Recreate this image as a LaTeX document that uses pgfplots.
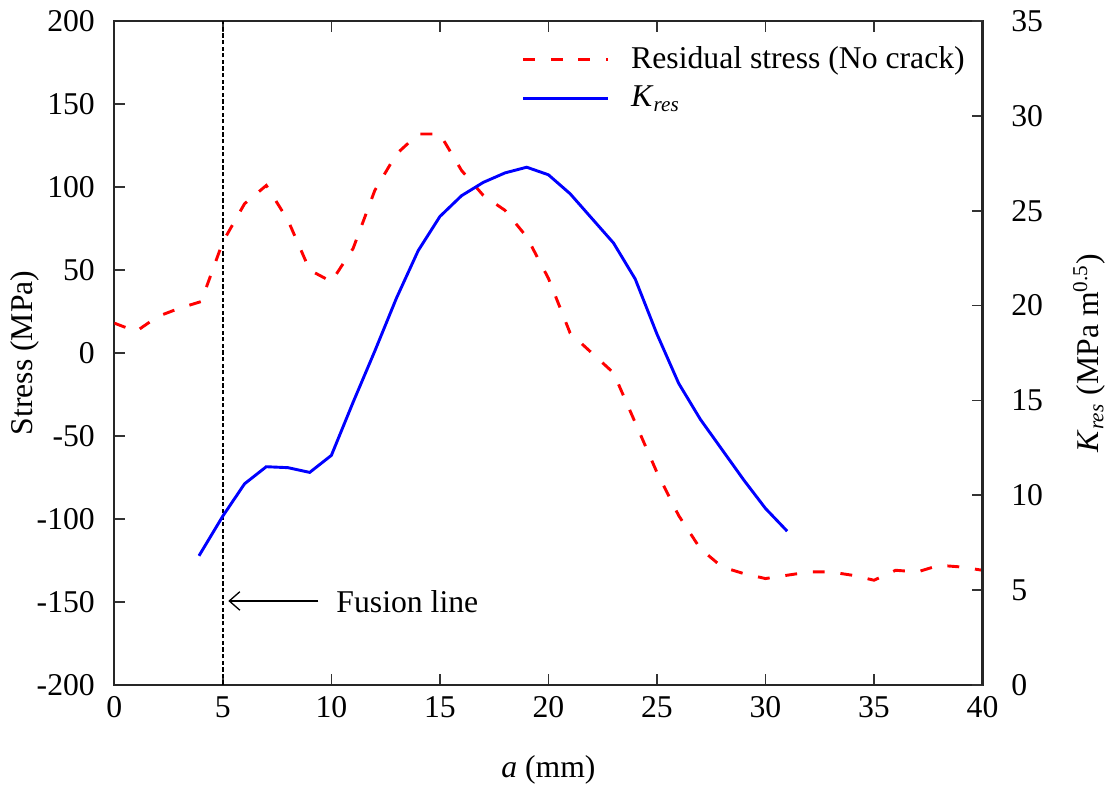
\documentclass[12pt,border=0pt]{standalone}
\usepackage{fontspec}
\setmainfont{Liberation Serif}
\usepackage{pgfplots}
\pgfplotsset{compat=1.18}
\usetikzlibrary{arrows.meta}

\pgfplotstableread{
x y
0 18
1 13
2 22
3 27
4 31
5 67
6 90
7 101
8 80
9 50
10 43
11 63
12 98
13 120
14 132
15 132
16 110
17 95
18 86
19 70
20 45
21 12
22 0
23 -12
24 -42
25 -72
26 -98
27 -118
28 -129
29 -133
30 -136
31 -134
32 -132
33 -132
34 -134
35 -137
36 -131
37 -132
38 -128
39 -129
40 -131
}\stressdata

\pgfplotstableread{
x k
3.9 6.8
5 8.9
6 10.6
7 11.5
8 11.45
9 11.2
10 12.1
11 14.9
12 17.6
13 20.4
14 22.9
15 24.7
16 25.8
17 26.5
18 27.0
19 27.3
20 26.9
21 25.9
22 24.6
23 23.3
24 21.4
25 18.5
26 15.9
27 14.0
28 12.4
29 10.8
30 9.3
31 8.1
}\kdata

\definecolor{kblue}{RGB}{0,0,255}
\definecolor{sred}{RGB}{255,0,0}

\begin{document}
\begin{tikzpicture}
\pgfplotsset{
  every axis/.append style={
    scale only axis,
    width=328.7pt, height=251.2pt,
    xmin=0, xmax=40,
    line width=0.8pt,
    tick style={line width=0.6pt, black!80},
    major tick length=4pt,
    /pgf/number format/assume math mode=true,
    tick label style={font=\fontsize{12}{14}\selectfont},
    label style={font=\fontsize{12}{14}\selectfont},
  },
}
\begin{axis}[
  ymin=-200, ymax=200,
  ytick={-200,-150,...,200},
  xtick={0,5,...,40},
  xtick pos=both,
  ytick pos=left,
  tick align=inside,
  xlabel={\textit{a} (mm)},
  ylabel={Stress (MPa)},
  xlabel style={yshift=-6pt},
  ylabel style={at={(axis description cs:-0.103,0.5)}, anchor=center},
  yticklabel style={xshift=-3pt},
  axis line style={black!85},
]
\addplot[sred, line width=1.1pt, dash pattern=on 4.5pt off 6pt] table[x=x,y=y] {\stressdata};
\addplot[black, line width=0.8pt, dash pattern=on 1.6pt off 0.9pt, forget plot] coordinates {(5,-200) (5,200)};
\draw[-{Straight Barb[length=4pt,width=7pt]}, line width=0.5pt] (axis cs:9.4,-149.5) -- (axis cs:5.25,-149.5);
\node[anchor=west, font=\fontsize{12}{14}\selectfont] at (axis cs:9.7,-150) {Fusion line};
\end{axis}
\begin{axis}[
  ymin=0, ymax=35,
  ytick={0,5,...,35},
  axis x line=none,
  axis y line*=right,
  tick align=inside,
  ylabel={\textit{K}\textsubscript{\textit{res}} (MPa m\textsuperscript{0.5})},
  ylabel style={at={(axis description cs:1.123,0.5)}, anchor=center},
  yticklabel style={xshift=6.5pt},
  axis line style={black!85},
  legend style={draw=none, fill=none, at={(0.996,0.98)}, anchor=north east,
    font=\fontsize{12}{14}\selectfont, row sep=1pt},
  legend cell align=left,
  legend image code/.code={\draw[#1] (0cm,0cm) -- (1.13cm,0cm); \path (1.35cm,0cm);},
]
\addlegendimage{sred, line width=1.1pt, dash pattern=on 4.5pt off 6pt}
\addlegendentry{Residual stress (No crack)}
\addplot[kblue, line width=1.1pt] table[x=x,y=k] {\kdata};
\addlegendentry{\textit{K}\textsubscript{\textit{res}}}
\end{axis}
\end{tikzpicture}
\end{document}
